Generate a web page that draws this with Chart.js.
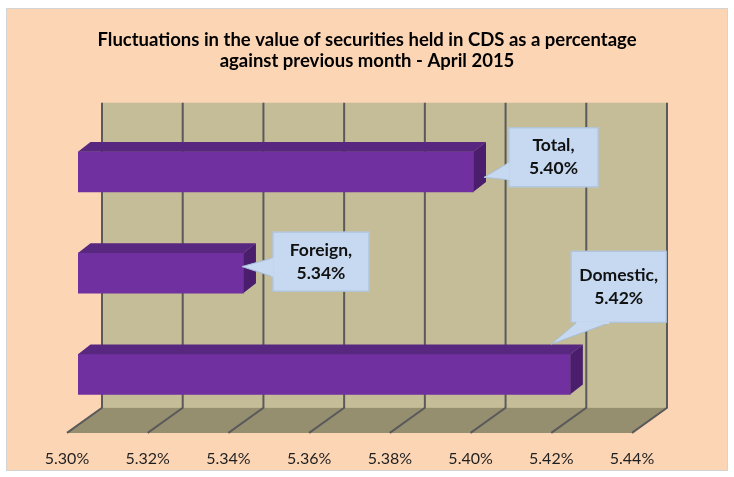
<!DOCTYPE html>
<html>
<head>
<meta charset="utf-8">
<script src="https://cdn.jsdelivr.net/npm/chart.js@4.4.1/dist/chart.umd.min.js"></script>
<style>
  html, body { margin: 0; padding: 0; background: #fff; }
  canvas { display: block; }
</style>
</head>
<body>
<canvas id="chart1" width="734" height="477"></canvas>
<script>
// data
const categories = ["Total", "Foreign", "Domestic"];
const changePct = [5.398, 5.341, 5.422];
const tickValues = [5.30, 5.32, 5.34, 5.36, 5.38, 5.40, 5.42, 5.44];
const titleLines = [
  "Fluctuations in the value of securities held in CDS as a percentage",
  "against previous month - April 2015",
];

// fake 3d: offsets from the bar plane
const BACK = [24, -17.2];
const FRONT = [-11, 7.9];
const BAR_DEPTH = [12.5, -9.8];
const WALL_TOP = -18.5; // relative to chartArea.top

// callout boxes, relative to the bar end (x) and front-face top (y)
const calloutLayout = [
  { box: [35, -24.5, 90, 60], tip: [10.5, 25.5], base: [[35, 11], [35, 28]] },
  { box: [29, -21.5, 97, 60], tip: [-1.5, 13.5], base: [[29, 5], [29, 23.5]] },
  { box: [0.3, -103.6, 96, 72], tip: [-19, -10.3], base: [[6, -31.6], [39, -31.6]] },
];

function poly(ctx, pts, fill) {
  ctx.beginPath();
  ctx.moveTo(pts[0][0], pts[0][1]);
  pts.slice(1).forEach((p) => ctx.lineTo(p[0], p[1]));
  ctx.closePath();
  ctx.fillStyle = fill;
  ctx.fill();
}

const scene3d = {
  id: "scene3d",
  beforeDraw(chart) {
    const ctx = chart.ctx;
    ctx.save();
    ctx.fillStyle = "#ffffff";
    ctx.fillRect(0, 0, chart.width, chart.height);
    ctx.fillStyle = "#FCD5B5";
    ctx.fillRect(6.5, 8.5, 721, 462);
    ctx.strokeStyle = "#D4D4D4";
    ctx.lineWidth = 1;
    ctx.strokeRect(6.5, 8.5, 721, 462);
    ctx.restore();
  },
  beforeDatasetsDraw(chart) {
    const { ctx, chartArea: a, scales: { x } } = chart;
    const x0 = x.getPixelForValue(x.min);
    const x1 = x.getPixelForValue(x.max);
    const top = a.top + WALL_TOP;
    const floorBack = a.bottom + BACK[1];
    const floorFront = a.bottom + FRONT[1];
    ctx.save();
    // back wall
    ctx.fillStyle = "#C4BD97";
    ctx.fillRect(x0 + BACK[0], top, x1 - x0, floorBack - top);
    // floor
    poly(ctx, [
      [x0 + BACK[0], floorBack], [x1 + BACK[0], floorBack],
      [x1 + FRONT[0], floorFront], [x0 + FRONT[0], floorFront],
    ], "#958F70");
    // grid lines on wall + floor
    ctx.strokeStyle = "#5A5A5A";
    ctx.lineWidth = 2;
    x.ticks.forEach((t) => {
      const p = x.getPixelForValue(t.value);
      ctx.beginPath();
      ctx.moveTo(p + BACK[0], top);
      ctx.lineTo(p + BACK[0], floorBack);
      ctx.lineTo(p + FRONT[0], floorFront);
      ctx.stroke();
    });
    ctx.restore();
  },
  afterDatasetsDraw(chart) {
    const ctx = chart.ctx;
    const [dx, dy] = BAR_DEPTH;
    const left = chart.scales.x.getPixelForValue(chart.scales.x.min);
    ctx.save();
    chart.getDatasetMeta(0).data.forEach((bar) => {
      const { x: end, y, height } = bar.getProps(["x", "y", "height"], true);
      const base = left;
      const t = y - height / 2, b = y + height / 2;
      poly(ctx, [[base, t], [end, t], [end + dx, t + dy], [base + dx, t + dy]], "#58277F");
      poly(ctx, [[end, t], [end + dx, t + dy], [end + dx, b + dy], [end, b]], "#4A1E6C");
    });
    ctx.restore();
  },
  afterDraw(chart) {
    const ctx = chart.ctx;
    ctx.save();
    chart.getDatasetMeta(0).data.forEach((bar, i) => {
      const { x: end, y, height } = bar.getProps(["x", "y", "height"], true);
      const ax = end, ay = y - height / 2;
      const c = calloutLayout[i];
      const [bx, by, bw, bh] = c.box;
      const X = ax + bx, Y = ay + by;
      ctx.fillStyle = "#C6D9F1";
      ctx.fillRect(X, Y, bw, bh);
      ctx.strokeStyle = "#A9BFD9";
      ctx.lineWidth = 1;
      ctx.strokeRect(X + 0.5, Y + 0.5, bw - 1, bh - 1);
      const b1 = [ax + c.base[0][0], ay + c.base[0][1]];
      const b2 = [ax + c.base[1][0], ay + c.base[1][1]];
      const tp = [ax + c.tip[0], ay + c.tip[1]];
      poly(ctx, [b1, tp, b2], "#C6D9F1");
      ctx.beginPath();
      ctx.moveTo(b1[0], b1[1]);
      ctx.lineTo(tp[0], tp[1]);
      ctx.lineTo(b2[0], b2[1]);
      ctx.stroke();
      ctx.beginPath();
      ctx.moveTo(b1[0], b1[1]);
      ctx.lineTo(b2[0], b2[1]);
      ctx.strokeStyle = "#C6D9F1";
      ctx.lineWidth = 2.5;
      ctx.stroke();
      // text
      ctx.fillStyle = "#111";
      ctx.font = "bold 17.5px Lato";
      ctx.textAlign = "center";
      ctx.textBaseline = "middle";
      const cx = X + bw / 2, cy = Y + bh / 2;
      ctx.fillText(categories[i] + ",", cx, cy - 11.5);
      ctx.fillText(changePct[i].toFixed(2) + "%", cx, cy + 11.5);
    });
    ctx.restore();
  },
};

new Chart(document.getElementById("chart1"), {
  type: "bar",
  data: {
    labels: categories,
    datasets: [
      {
        label: "Change",
        data: changePct,
        base: tickValues[0],
        backgroundColor: "#7030A0",
        borderWidth: 0,
        barThickness: 40,
      },
    ],
  },
  options: {
    indexAxis: "y",
    responsive: false,
    devicePixelRatio: 1,
    animation: false,
    layout: { padding: { top: 10, left: 0, right: 0, bottom: 10 } },
    plugins: {
      legend: { display: false },
      tooltip: { enabled: false },
      title: {
        display: true,
        text: titleLines,
        color: "#000",
        font: { family: "Lato", size: 18.5, weight: "bold", lineHeight: 1.168 },
        padding: { top: 19, bottom: 49 },
      },
    },
    scales: {
      x: {
        min: 5.30,
        max: 5.44,
        afterBuildTicks: (s) => {
          s.ticks = tickValues.map((v) => ({ value: v }));
        },
        afterFit: (s) => {
          s.height = 42;
          s.paddingLeft = 78;
          s.paddingRight = 91;
        },
        grid: { display: false, drawTicks: false, tickLength: 0 },
        border: { display: false },
        ticks: {
          padding: 24,
          labelOffset: -11,
          maxRotation: 0,
          color: "#1F1F1F",
          font: { family: "Lato", size: 16 },
          callback: (v) => Number(v).toFixed(2) + "%",
        },
      },
      y: { display: false },
    },
  },
  plugins: [scene3d],
});
</script>
</body>
</html>
